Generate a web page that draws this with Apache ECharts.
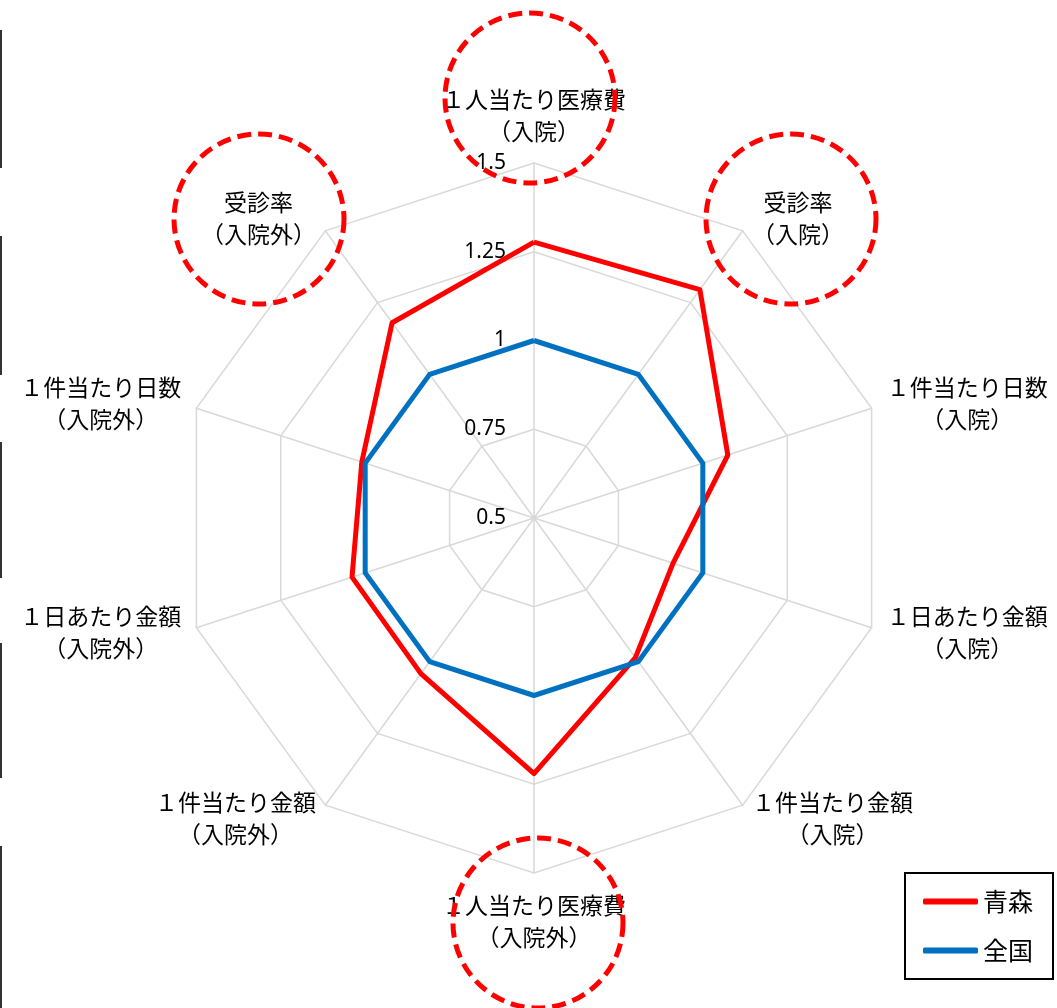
<!DOCTYPE html>
<html>
<head>
<meta charset="utf-8">
<script src="https://cdn.jsdelivr.net/npm/echarts@6/dist/echarts.min.js"></script>
<style>
html,body{margin:0;padding:0;background:#fff;}
#main{width:1057px;height:1008px;}
</style>
</head>
<body>
<div id="main"></div>
<script>
// categories in clockwise order starting at the top
var categories = [
  '１人当たり医療費\n（入院）',
  '受診率\n（入院）',
  '１件当たり日数\n（入院）',
  '１日あたり金額\n（入院）',
  '１件当たり金額\n（入院）',
  '１人当たり医療費\n（入院外）',
  '１件当たり金額\n（入院外）',
  '１日あたり金額\n（入院外）',
  '１件当たり日数\n（入院外）',
  '受診率\n（入院外）'
];
var aomori = [1.277, 1.295, 1.074, 0.912, 0.986, 1.22, 1.042, 1.039, 1.01, 1.18];
var zenkoku = [1, 1, 1, 1, 1, 1, 1, 1, 1, 1];
var seriesNames = ['青森', '全国'];
var axisMin = 0.5, axisMax = 1.5, axisInterval = 0.25;

// ECharts radar runs counter-clockwise; reorder so that the chart reads clockwise
function toCCW(arr) {
  var out = [arr[0]];
  for (var i = arr.length - 1; i >= 1; i--) out.push(arr[i]);
  return out;
}
var indicator = toCCW(categories).map(function (n, i) {
  var o = { name: n, min: axisMin, max: axisMax };
  if (i === 0) o.axisLabel = { show: true };
  return o;
});

var chart = echarts.init(document.getElementById('main'), null, { renderer: 'canvas' });
var jp = '"Noto Sans CJK JP", "Noto Sans", sans-serif';
var grid = '#d9d9d9';

function dashCircle(cx, cy) {
  return {
    type: 'circle', shape: { cx: cx, cy: cy, r: 85 }, z: 100, silent: true,
    style: { fill: null, stroke: '#ff0000', lineWidth: 5, lineDash: [14, 7] }
  };
}
function edgeLine(y1, y2) {
  return { type: 'line', shape: { x1: 1, y1: y1, x2: 1, y2: y2 }, style: { stroke: '#333', lineWidth: 2 } };
}

chart.setOption({
  animation: false,
  backgroundColor: '#fff',
  legend: {
    left: 905, top: 873,
    orient: 'vertical',
    data: seriesNames,
    icon: 'roundRect',
    itemWidth: 55, itemHeight: 6, itemGap: 24,
    padding: [16, 20, 16, 18],
    borderColor: '#000', borderWidth: 2,
    textStyle: { fontSize: 25, color: '#000', fontFamily: jp }
  },
  radar: {
    center: [534, 518],
    radius: 355,
    startAngle: 90,
    splitNumber: 4,
    shape: 'polygon',
    indicator: indicator,
    nameGap: 16,
    axisName: {
      color: '#000', fontSize: 23, fontFamily: jp, lineHeight: 32,
      formatter: function (name) {
        return name.split('\n').map(function (s) { return '{c|' + s + '}'; }).join('\n');
      },
      rich: { c: { align: 'center', fontSize: 23, fontFamily: jp, lineHeight: 32, color: '#000' } }
    },
    axisLine: { lineStyle: { color: grid, width: 1.5 } },
    splitLine: { lineStyle: { color: grid, width: 1.5 } },
    splitArea: { show: false },
    axisTick: { show: false },
    axisLabel: {
      show: false, color: '#000', fontSize: 21, fontFamily: '"Noto Sans", sans-serif', margin: 28,
      formatter: function (v) { return String(+v.toFixed(2)); }
    }
  },
  series: [
    {
      type: 'radar', name: seriesNames[0], symbol: 'none', z: 3,
      itemStyle: { color: '#ff0000' },
      lineStyle: { color: '#ff0000', width: 5 },
      data: [{ name: seriesNames[0], value: toCCW(aomori) }]
    },
    {
      type: 'radar', name: seriesNames[1], symbol: 'none', z: 4,
      itemStyle: { color: '#0070c0' },
      lineStyle: { color: '#0070c0', width: 5 },
      data: [{ name: seriesNames[1], value: toCCW(zenkoku) }]
    }
  ],
  graphic: [
    dashCircle(530, 98),
    dashCircle(791, 219),
    dashCircle(259, 219),
    dashCircle(538, 923),
    edgeLine(30, 168),
    edgeLine(236, 375),
    edgeLine(442, 578),
    edgeLine(643, 778),
    edgeLine(846, 1008)
  ]
});
</script>
</body>
</html>
